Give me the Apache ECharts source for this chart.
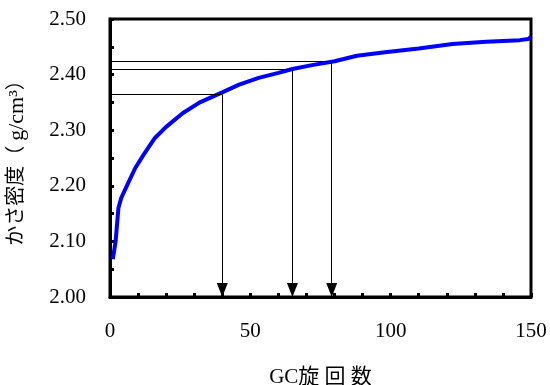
<!DOCTYPE html>
<html><head><meta charset="utf-8">
<script src="https://cdn.jsdelivr.net/npm/echarts@6/dist/echarts.min.js"></script>
<style>html,body{margin:0;padding:0;background:#fff;overflow:hidden}#c{width:550px;height:385px}</style>
</head><body><div id="c"></div>
<script>
// GC gyration count vs bulk density
const gyrations = [1,2,3,4,6,9,12,16,20,26,32,40,46,53,60,65,72,80,88,98,110,122,134,146,149,150];
const density   = [2.068,2.100,2.160,2.178,2.200,2.232,2.256,2.286,2.306,2.331,2.350,2.368,2.382,2.394,2.403,2.410,2.417,2.424,2.434,2.440,2.447,2.455,2.459,2.462,2.464,2.468];
// reference points (gyrations, density) marked with arrows
const refX = [40, 65, 79];
const refY = [2.364, 2.410, 2.424];
const xTicks = [0, 50, 100, 150];
const yTicks = [2.00, 2.10, 2.20, 2.30, 2.40, 2.50];

const serif = '"Liberation Serif","Times New Roman",serif';
const jp = '"Liberation Serif","Noto Sans CJK JP",serif';

const markData = [];
refX.forEach((x, i) => {
  markData.push([{coord: [0, refY[i]], symbol: 'none'}, {coord: [x, refY[i]], symbol: 'none'}]);
  markData.push([{coord: [x, refY[i]], symbol: 'none'}, {coord: [x, yTicks[0]], symbol: 'triangle', symbolSize: [11, 14], symbolOffset: [0, 7]}]);
});

const chart = echarts.init(document.getElementById('c'));
chart.setOption({
  animation: false,
  grid: {left: 110, right: 19, top: 19, bottom: 88, outerBoundsMode: 'none', containLabel: false,
         show: true, borderColor: '#000', borderWidth: 3, backgroundColor: 'transparent'},
  xAxis: {
    type: 'value', min: xTicks[0], max: xTicks[xTicks.length-1], interval: 50,
    name: 'GC旋 回 数', nameLocation: 'middle', nameGap: 70,
    nameTextStyle: {fontFamily: jp, fontSize: 21, color: '#000'},
    axisLine: {lineStyle: {color: '#000', width: 3}},
    axisTick: {show: true, inside: true, length: 4, lineStyle: {color: '#000', width: 3}},
    minorTick: {show: true, splitNumber: 5, length: 4, lineStyle: {color: '#000', width: 3}},
    axisLabel: {fontFamily: serif, fontSize: 21, color: '#000', margin: 24},
    splitLine: {show: false}, minorSplitLine: {show: false}
  },
  yAxis: {
    type: 'value', min: yTicks[0], max: yTicks[yTicks.length-1], interval: 0.1,
    name: '{a|かさ密度（ }{b|g/cm³}{a|）}', nameLocation: 'middle', nameGap: 82, nameRotate: 90,
    nameTextStyle: {color: '#000', rich: {
      a: {fontFamily: jp, fontSize: 20, color: '#000'},
      b: {fontFamily: serif, fontSize: 22, color: '#000'}
    }},
    axisLine: {lineStyle: {color: '#000', width: 3}},
    axisTick: {show: true, inside: true, length: 4, lineStyle: {color: '#000', width: 3}},
    minorTick: {show: true, splitNumber: 2, length: 4, lineStyle: {color: '#000', width: 3}},
    axisLabel: {fontFamily: serif, fontSize: 21, color: '#000', margin: 24, formatter: v => v.toFixed(2)},
    splitLine: {show: false}, minorSplitLine: {show: false}
  },
  series: [{
    type: 'line', data: gyrations.map((g, i) => [g, density[i]]),
    showSymbol: false, symbol: 'none',
    lineStyle: {color: '#0000ff', width: 4},
    markLine: {
      silent: true, animation: false, symbol: 'none',
      lineStyle: {color: '#000', width: 1, type: 'solid'},
      itemStyle: {color: '#000'},
      label: {show: false},
      emphasis: {disabled: true},
      data: markData
    },
    z: 3
  }]
});
</script></body></html>
